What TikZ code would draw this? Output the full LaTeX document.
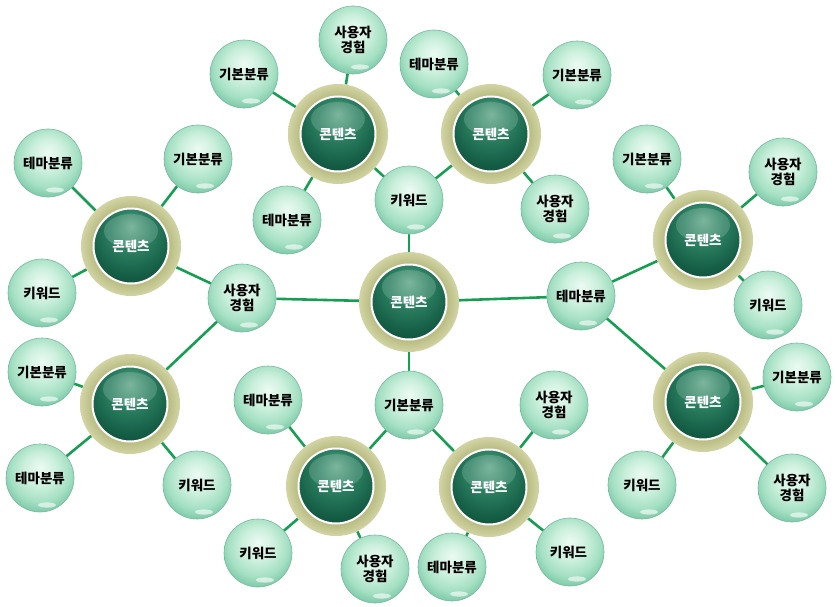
\documentclass[tikz,border=0pt]{standalone}
\usepackage{fontspec}
\newfontfamily\krfont{Noto Sans CJK KR}
\usetikzlibrary{backgrounds}
\definecolor{linkgreen}{RGB}{22,158,82}
\definecolor{mintA}{RGB}{236,250,243}
\definecolor{mintB}{RGB}{204,240,221}
\definecolor{mintC}{RGB}{165,224,195}
\definecolor{mintD}{RGB}{122,200,167}
\definecolor{mintE}{RGB}{92,172,142}
\definecolor{mintrim}{RGB}{118,184,158}
\definecolor{hubA}{RGB}{98,168,138}
\definecolor{hubB}{RGB}{44,128,98}
\definecolor{hubC}{RGB}{22,96,71}
\definecolor{hubD}{RGB}{12,70,51}
\definecolor{hubE}{RGB}{8,52,38}
\definecolor{ringA}{RGB}{186,190,132}
\definecolor{ringB}{RGB}{210,212,164}
\pgfdeclareradialshading{mintball}{\pgfpoint{0bp}{8bp}}{color(0bp)=(mintA); color(12bp)=(mintB); color(22bp)=(mintC); color(29bp)=(mintD); color(35bp)=(mintE); color(50bp)=(mintE)}
\pgfdeclareradialshading{hubball}{\pgfpoint{0bp}{10bp}}{color(0bp)=(hubA); color(10bp)=(hubB); color(20bp)=(hubC); color(29bp)=(hubD); color(36bp)=(hubE); color(50bp)=(hubE)}
\pgfdeclareradialshading{ringshade}{\pgfpoint{0bp}{0bp}}{color(0bp)=(ringA); color(19.5bp)=(ringA); color(25bp)=(ringB); color(50bp)=(ringB)}
\tikzset{
  kr/.style={font=\krfont\bfseries\fontsize{13.5}{14.5}\selectfont, align=center},
  ball/.style={kr, circle, minimum size=68pt, inner sep=0pt, shading=mintball,
    draw=mintrim, line width=.6pt,
    path picture={\fill[white,opacity=.6] ([xshift=7pt,yshift=-27pt]path picture bounding box.center) ellipse (9pt and 2.6pt);}},
  hub/.style={kr, text=white, circle, minimum size=100pt, inner sep=0pt, shading=ringshade,
    path picture={
      \shade[shading=hubball] (path picture bounding box.center) circle (38pt);
      \fill[white,opacity=.16] ([yshift=15pt]path picture bounding box.center) ellipse (27pt and 17pt);
      \draw[white,line width=2pt] (path picture bounding box.center) circle (37.5pt);}},
  link/.style={draw=linkgreen, line width=2.6pt}
}
\begin{document}
\begin{tikzpicture}[x=1pt,y=-1pt]
      \useasboundingbox (0,0) rectangle (837,607);
      \foreach \n/\x/\y in {
        c/409/302, ht1/338/134, ht2/491/134, hl1/131/246, hl2/130/404,
        hr1/703/240, hr2/703/402, hb1/336/486, hb2/489/487
      }{
        \node[hub] (\n) at (\x,\y) {콘텐츠};
      }
      \foreach \n/\x/\y/\t in {
        kw/409/200/키워드, ux/242/298/{사용자\\경험}, tm/581/296/테마분류, bs/409/405/기본분류,
        ht1a/353/40/{사용자\\경험}, ht1b/244/74/기본분류, ht1c/287/220/테마분류,
        ht2a/434/64/테마분류, ht2b/577/75/기본분류, ht2c/555/209/{사용자\\경험},
        hl1a/48/163/테마분류, hl1b/198/159/기본분류, hl1c/42/293/키워드,
        hl2a/42/372/기본분류, hl2b/40/478/테마분류, hl2c/197/485/키워드,
        hr1a/647/159/기본분류, hr1b/783/172/{사용자\\경험}, hr1c/768/305/키워드,
        hr2a/797/377/기본분류, hr2b/642/485/키워드, hr2c/792/488/{사용자\\경험},
        hb1a/268/400/테마분류, hb1b/258/553/키워드, hb1c/375/569/{사용자\\경험},
        hb2a/554/405/{사용자\\경험}, hb2b/452/567/테마분류, hb2c/570/552/키워드
      }{
        \node[ball] (\n) at (\x,\y) {\t};
      }
      \begin{scope}[on background layer]
        \foreach \a/\b in {c/kw, c/ux, c/tm, c/bs, kw/ht1, kw/ht2, ux/hl1, ux/hl2,
          tm/hr1, tm/hr2, bs/hb1, bs/hb2}
          \draw[link] (\a) -- (\b);
        \foreach \h in {ht1, ht2, hl1, hl2, hr1, hr2, hb1, hb2}
          \foreach \s in {a, b, c}
            \draw[link] (\h) -- (\h\s);
      \end{scope}
    \end{tikzpicture}
\end{document}
